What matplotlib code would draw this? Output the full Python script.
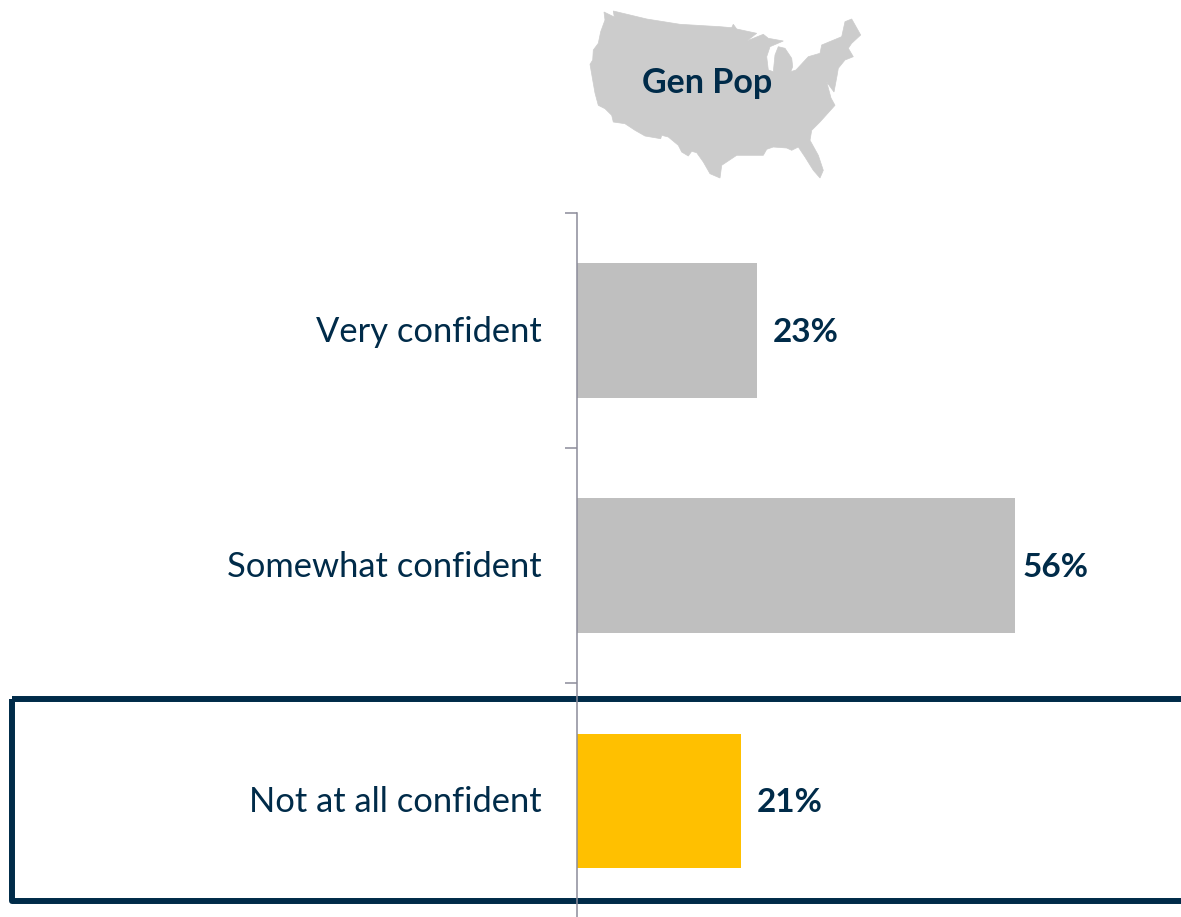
import matplotlib.pyplot as plt
from matplotlib.patches import Polygon, Rectangle

W, H = 1181, 917

categories = ['Very confident', 'Somewhat confident', 'Not at all confident']
values = [23, 56, 21]
bar_colors = ['#bfbfbf', '#bfbfbf', '#ffc000']
navy = '#002b49'

map_outline = [(604, 12), (614.3, 17), (613.3, 11), (646.7, 19), (680, 24.3), (720, 26.7),
               (731.7, 27.7), (733.3, 24.3), (736.7, 29), (756.7, 33.3), (746.7, 41), (763.3, 34.3),
               (768.3, 38.3), (783.3, 41), (770, 46.7), (766.7, 56.7), (768.3, 70), (773.3, 71.7),
               (775, 55), (778.3, 46.7), (785, 48.3), (791.7, 58.3), (792.7, 66.7), (790.7, 71.7),
               (796, 70), (808.3, 56.7), (820, 53.3), (821.7, 45), (841.7, 36.7), (845, 21.7),
               (851.7, 19), (860.7, 35), (851.7, 43.3), (848.3, 48.3), (853.3, 56.7), (845, 60),
               (838.3, 68.3), (837, 76), (834, 92), (826.7, 82), (831, 98), (835, 105.3),
               (820, 122), (811.7, 130.3), (810, 140.3), (818.3, 155.3), (823.3, 170.3), (820, 178),
               (813.3, 170.3), (805, 157), (798.3, 147), (791.7, 150.3), (786.7, 148), (773.3, 147),
               (766.7, 149.3), (763.3, 155.3), (756.7, 155.3), (736.7, 155.3), (721.7, 165.3),
               (720, 178), (710, 173.7), (703.3, 162), (696.7, 152.7), (691.7, 151.3), (688.3, 156),
               (681.7, 152), (678.3, 145.3), (668.3, 137), (661.7, 135.3), (660.7, 138.7), (645, 136),
               (635, 130.3), (625, 123.7), (613.3, 122), (611.7, 115.3), (605, 108.7), (598.3, 105.3),
               (595, 93), (592.7, 80), (590, 64.3), (592.7, 60), (593.3, 50), (598.3, 43.3),
               (600.7, 31.7), (605, 20)]

plt.rcParams['font.family'] = ['Lato', 'DejaVu Sans']

fig = plt.figure(figsize=(W / 100, H / 100), dpi=100, facecolor='white')

# overlay in pixel coordinates for the map and the highlight box
bg = fig.add_axes([0, 0, 1, 1])
bg.set_xlim(0, W)
bg.set_ylim(H, 0)
bg.axis('off')
bg.add_patch(Polygon(map_outline, closed=True, facecolor='#cccccc', edgecolor='#cccccc', linewidth=0.5))
bg.text(707, 83, 'Gen Pop', color=navy, fontsize=24.5, fontweight='bold', ha='center', va='center')
bg.add_patch(Rectangle((11.5, 699), 1240, 202, fill=False, edgecolor=navy, linewidth=4.3, joinstyle='round'))

# axes runs from x=577 to the right edge, y=213 to y=918
ax = fig.add_axes([577 / W, (H - 918.5) / H, (W - 577) / W, 705.5 / H])
ax.patch.set_alpha(0)
ax.set_xlim(0, (W - 577) / 7.83)
ax.set_ylim(2.5, -0.5)
ax.barh(range(3), values, height=0.573, color=bar_colors)
for s in ['top', 'right', 'bottom']:
    ax.spines[s].set_visible(False)
ax.spines['left'].set_color('#8c8c9a')
ax.spines['left'].set_linewidth(1.1)
ax.set_xticks([])
ax.set_yticks([-0.5, 0.5, 1.5, 2.5])
ax.set_yticklabels([])
ax.tick_params(axis='y', length=8.5, width=1.1, color='#8c8c9a')

for i, (cat, v) in enumerate(zip(categories, values)):
    ax.annotate(cat, (0, i), xytext=(-25.5, -1), textcoords='offset points', ha='right', va='center',
                color=navy, fontsize=24.8)
    ax.annotate('%d%%' % v, (v, i), xytext=(11 if v < 50 else 5, -1.5), textcoords='offset points',
                ha='left', va='center', color=navy, fontsize=24, fontweight='bold')

fig.savefig('out.png', dpi=100)
